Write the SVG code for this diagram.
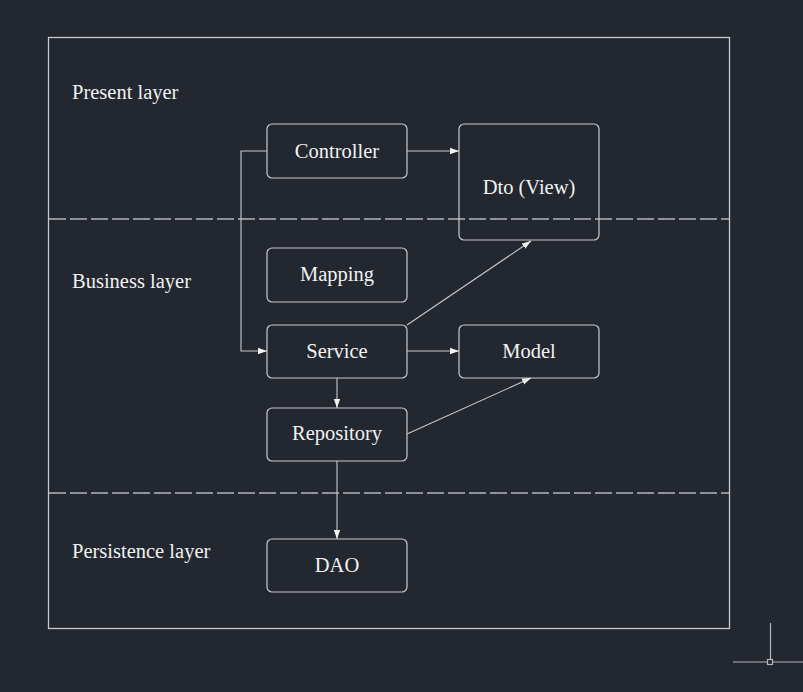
<svg xmlns="http://www.w3.org/2000/svg" width="803" height="692" viewBox="0 0 803 692">
<style>
.box{fill:none;stroke:#c9cacc;stroke-width:1.2}
.t{font-family:"Liberation Serif","Times New Roman",serif;font-size:20.5px;fill:#f2f2f2}
.c{text-anchor:middle}
.ln{fill:none;stroke:#c9cacc;stroke-width:1.1}
.dash{stroke:#b4b6ba;stroke-width:1.5;stroke-dasharray:17 4}
</style>
<defs>
<marker id="ah" viewBox="0 0 10 10" refX="10" refY="5" markerWidth="9" markerHeight="9" markerUnits="userSpaceOnUse" orient="auto">
<path d="M0,1.5 L10,5 L0,8.5 Z" fill="#f2f2f2"/>
</marker>
</defs>
<rect width="803" height="692" fill="#222730"/>
<g id="frame">
<rect x="48.5" y="37.5" width="681" height="591" fill="none" stroke="#c9cacc" stroke-width="1.3"/>
<line class="dash" x1="49" y1="219" x2="729" y2="219"/>
<line class="dash" x1="49" y1="493" x2="729" y2="493"/>
<text class="t" x="72" y="99">Present layer</text>
<text class="t" x="72" y="288">Business layer</text>
<text class="t" x="72" y="558">Persistence layer</text>
</g>
<g id="controller"><rect class="box" x="267" y="124" width="140" height="54" rx="5"/><text class="t c" x="337" y="158">Controller</text></g>
<g id="dto"><rect class="box" x="459" y="124" width="140" height="116" rx="5"/><text class="t c" x="529" y="194">Dto (View)</text></g>
<g id="mapping"><rect class="box" x="267" y="248" width="140" height="54" rx="5"/><text class="t c" x="337" y="281">Mapping</text></g>
<g id="service"><rect class="box" x="267" y="325" width="140" height="53" rx="5"/><text class="t c" x="337" y="358">Service</text></g>
<g id="model"><rect class="box" x="459" y="325" width="140" height="53" rx="5"/><text class="t c" x="529" y="358">Model</text></g>
<g id="repository"><rect class="box" x="267" y="408" width="140" height="53" rx="5"/><text class="t c" x="337" y="440">Repository</text></g>
<g id="dao"><rect class="box" x="267" y="539" width="140" height="53" rx="5"/><text class="t c" x="337" y="572">DAO</text></g>
<g id="connectors">
<line class="ln" x1="407" y1="151" x2="459" y2="151" marker-end="url(#ah)"/>
<polyline class="ln" points="267,151 241,151 241,351 267,351" marker-end="url(#ah)"/>
<line class="ln" x1="407" y1="351" x2="459" y2="351" marker-end="url(#ah)"/>
<line class="ln" x1="407" y1="325" x2="531" y2="241" marker-end="url(#ah)"/>
<line class="ln" x1="337" y1="378" x2="337" y2="408" marker-end="url(#ah)"/>
<line class="ln" x1="407" y1="434" x2="531" y2="378" marker-end="url(#ah)"/>
<line class="ln" x1="337" y1="461" x2="337" y2="539" marker-end="url(#ah)"/>
</g>
<g id="cursor">
<line x1="733" y1="662" x2="803" y2="662" stroke="#b4b6ba" stroke-width="1.2"/>
<line x1="770.5" y1="623" x2="770.5" y2="659" stroke="#b4b6ba" stroke-width="1.2"/>
<rect x="767.5" y="659.5" width="5" height="5" fill="#222730" stroke="#b4b6ba" stroke-width="1.2"/>
</g>
</svg>
